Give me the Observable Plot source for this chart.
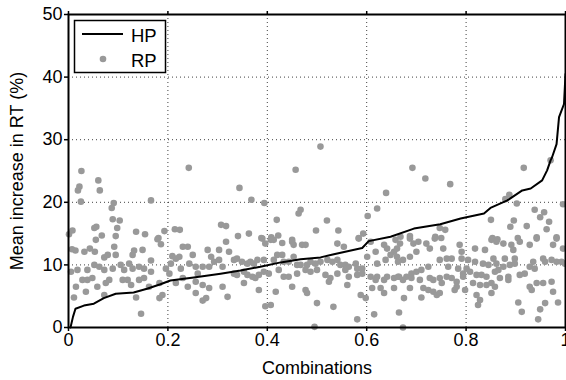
<!DOCTYPE html>
<html>
<head>
<meta charset="utf-8">
<script src="https://cdn.jsdelivr.net/npm/d3@7"></script>
<script src="https://cdn.jsdelivr.net/npm/@observablehq/plot@0.6"></script>
<style>
  html, body { margin: 0; padding: 0; background: white; }
  #wrap { position: relative; width: 566px; height: 380px; }
  #legend { position: absolute; left: 0; top: 0; pointer-events: none; }
</style>
</head>
<body>
<div id="wrap"></div>
<script>
// ---- data ----
const xTicks = [0, 0.2, 0.4, 0.6, 0.8, 1];
const yTicks = [0, 10, 20, 30, 40, 50];
const seriesNames = ["HP", "RP"];

// HP: sorted curve (x = fraction of combinations, y = mean increase %)
const hpPoints = [
  [0.004,0],[0.009,1.7],[0.014,3.0],[0.031,3.5],[0.051,3.8],[0.071,4.7],[0.095,5.4],
  [0.131,5.6],[0.158,6.2],[0.185,6.9],[0.205,7.5],[0.252,8.0],[0.306,8.6],[0.346,9.1],
  [0.386,9.7],[0.427,10.4],[0.467,10.9],[0.507,11.2],[0.534,11.7],[0.591,12.7],[0.604,13.8],
  [0.648,14.5],[0.695,15.8],[0.748,16.5],[0.789,17.4],[0.836,18.2],[0.849,19.1],[0.883,20.3],
  [0.913,21.9],[0.930,22.2],[0.953,23.5],[0.963,25.1],[0.970,26.7],[0.973,27.2],[0.982,29.3],
  [0.987,33.6],[0.997,35.7],[1.0,40.5]
];

// RP: scattered points
const rpPoints = [
  [0.026,25.0],[0.022,22.5],[0.019,21.9],[0.060,23.5],[0.063,21.9],[0.025,20.1],[0.091,19.9],[0.087,19.1],
  [0.089,17.3],[0.103,17.1],[0.166,20.3],[0.242,25.5],[0.052,15.9],[0.056,16.1],[0.098,15.9],[0.008,15.5],
  [0.001,14.9],[0.067,14.7],[0.095,14.6],[0.136,15.3],[0.154,14.9],[0.193,15.4],[0.181,14.3],[0.214,15.7],
  [0.224,15.6],[0.307,16.4],[0.317,16.2],
  [0.055,14.0],[0.092,12.9],[0.132,12.3],[0.149,12.4],[0.179,14.1],[0.186,13.3],[0.129,11.6],[0.007,12.5],
  [0.014,12.3],[0.032,12.1],[0.043,12.6],[0.053,12.1],[0.072,11.2],[0.079,11.6],[0.095,11.6],[0.209,11.4],
  [0.216,11.0],[0.223,11.3],[0.230,12.9],[0.240,12.9],[0.250,11.6],[0.280,12.4],[0.287,11.3],[0.303,12.4],
  [0.317,13.7],[0.323,12.1],[0.293,10.5],[0.303,10.8],
  [0.005,8.9],[0.018,9.2],[0.038,9.2],[0.052,10.0],[0.062,9.7],[0.072,9.2],[0.089,9.4],[0.105,10.0],
  [0.112,9.2],[0.122,10.2],[0.129,9.4],[0.142,9.7],[0.152,9.4],[0.166,10.7],[0.166,8.9],[0.196,9.4],
  [0.206,10.2],[0.226,9.4],[0.243,10.2],[0.256,9.7],[0.270,9.7],[0.283,9.7],[0.310,9.7],
  [0.015,6.5],[0.028,7.6],[0.038,7.6],[0.048,7.9],[0.058,6.5],[0.075,7.1],[0.082,7.6],[0.109,7.6],
  [0.119,7.6],[0.126,6.8],[0.142,7.6],[0.152,7.9],[0.162,6.5],[0.183,7.1],[0.203,8.6],[0.216,7.1],
  [0.230,7.9],[0.240,6.5],[0.256,7.3],[0.270,6.8],[0.283,6.3],[0.310,6.5],[0.260,8.6],
  [0.011,4.8],[0.035,5.7],[0.072,5.2],[0.136,4.8],[0.183,4.7],[0.189,5.2],[0.256,5.5],[0.270,4.3],
  [0.277,4.7],[0.320,4.9],[0.146,2.2],
  [0.507,28.9],[0.457,25.2],[0.344,22.3],[0.368,20.4],[0.394,19.9],[0.467,18.8],[0.463,18.2],[0.419,17.2],
  [0.520,17.1],[0.639,21.5],[0.621,19.0],[0.602,17.8],[0.498,15.5],[0.543,15.5],[0.341,14.6],[0.363,15.0],
  [0.388,14.3],[0.408,14.4],[0.422,14.7],[0.450,14.0],[0.593,15.0],[0.584,14.3],
  [0.390,14.2],[0.396,13.4],[0.407,14.0],[0.413,14.0],[0.430,13.5],[0.450,13.7],[0.453,13.2],[0.470,13.2],
  [0.477,13.2],[0.541,13.4],[0.554,12.9],[0.584,14.2],[0.608,13.7],[0.618,12.1],[0.635,13.2],[0.641,12.6],
  [0.655,12.1],[0.661,12.6],[0.658,14.0],
  [0.333,10.8],[0.339,11.0],[0.349,10.5],[0.360,10.2],[0.366,10.5],[0.373,10.2],[0.380,10.8],[0.393,10.8],
  [0.413,10.8],[0.420,11.6],[0.430,11.6],[0.433,10.5],[0.443,10.5],[0.453,11.3],[0.460,10.0],[0.467,10.0],
  [0.480,10.0],[0.487,10.5],[0.497,10.2],[0.507,10.5],[0.521,10.8],[0.531,10.5],[0.541,10.8],[0.547,10.0],
  [0.557,10.0],[0.564,9.7],[0.578,10.2],[0.581,9.4],[0.591,9.4],[0.601,11.3],[0.621,10.2],[0.638,10.8],
  [0.648,11.6],[0.661,11.3],
  [0.333,8.6],[0.339,8.4],[0.353,8.9],[0.360,8.4],[0.370,8.1],[0.376,7.9],[0.383,8.4],[0.393,8.9],
  [0.403,8.6],[0.423,9.2],[0.433,8.1],[0.443,8.1],[0.460,8.6],[0.477,9.2],[0.487,8.9],[0.500,9.2],
  [0.517,8.4],[0.527,7.9],[0.541,8.6],[0.557,9.2],[0.564,8.1],[0.581,8.4],[0.591,8.6],[0.608,8.1],
  [0.618,7.6],[0.621,8.1],[0.635,7.6],[0.641,8.1],[0.655,7.9],[0.665,8.1],
  [0.353,7.1],[0.383,6.0],[0.417,5.7],[0.450,6.5],[0.477,6.0],[0.480,5.5],[0.524,7.3],[0.561,6.8],
  [0.588,5.2],[0.598,4.7],[0.611,6.3],[0.628,6.3],[0.635,5.5],[0.655,6.3],
  [0.396,3.4],[0.407,3.6],[0.500,3.9],[0.533,3.3],[0.581,1.3],[0.615,2.1],[0.665,2.4],[0.495,0.1],
  [0.692,25.5],[0.718,23.8],[0.768,22.9],[0.916,25.5],[0.970,26.7],[0.887,21.2],[0.879,20.5],[0.902,19.8],
  [0.995,19.7],[0.938,18.8],[0.957,18.4],[0.949,17.6],[0.967,16.9],[0.850,17.2],[0.896,17.1],[0.889,16.1],
  [0.922,16.2],[0.962,15.7],[0.747,15.9],[0.758,15.6],[0.687,14.6],[0.668,14.5],[0.738,14.5],[0.750,14.3],
  [0.853,14.3],[0.863,14.1],[0.904,14.3],[0.942,14.4],[0.982,14.4],
  [0.667,13.4],[0.687,14.2],[0.694,13.4],[0.704,13.7],[0.720,13.4],[0.727,12.6],[0.700,12.1],[0.687,11.3],
  [0.673,10.8],[0.663,10.5],[0.737,14.2],[0.754,12.6],[0.787,13.2],[0.791,12.1],[0.818,12.6],[0.838,12.4],
  [0.851,14.0],[0.861,13.7],[0.875,13.4],[0.891,13.2],[0.895,12.4],[0.908,13.7],[0.928,13.2],[0.942,14.2],
  [0.975,13.2],[0.982,14.2],[0.995,12.6],[0.855,11.0],[0.878,11.0],[0.898,11.0],[0.935,10.5],[0.955,11.0],
  [0.972,10.8],[0.982,10.5],[0.992,10.5],[0.999,10.2],[0.747,10.8],[0.761,11.0],[0.771,11.0],[0.791,11.0],
  [0.804,10.8],[0.818,10.5],[0.834,10.2],[0.845,10.0],[0.861,10.2],[0.875,9.7],[0.888,10.0],[0.898,10.2],
  [0.663,8.1],[0.680,8.1],[0.690,8.6],[0.700,8.9],[0.710,9.2],[0.724,9.7],[0.764,9.7],[0.784,9.4],
  [0.794,8.6],[0.801,9.4],[0.808,8.9],[0.821,8.4],[0.831,8.4],[0.841,8.1],[0.858,8.9],[0.865,9.2],
  [0.868,7.9],[0.885,8.1],[0.908,8.4],[0.918,8.6],[0.928,9.7],[0.938,9.4],[0.959,10.5],
  [0.673,7.6],[0.690,7.9],[0.707,7.6],[0.727,7.9],[0.734,7.6],[0.747,7.9],[0.761,8.1],[0.771,7.9],
  [0.781,7.3],[0.794,8.1],[0.814,7.1],[0.828,6.8],[0.841,6.8],[0.851,7.1],[0.858,6.5],[0.885,7.6],
  [0.687,6.3],[0.714,6.3],[0.724,6.0],[0.734,5.7],[0.741,5.2],[0.747,5.5],[0.751,7.1],[0.777,6.0],
  [0.781,6.5],[0.798,6.0],[0.821,5.2],[0.828,4.4],[0.824,3.6],[0.851,5.5],[0.905,4.0],[0.912,2.5],
  [0.928,6.5],[0.932,6.0],[0.942,7.1],[0.955,7.1],[0.972,7.3],[0.975,5.7],[0.985,4.0],[0.949,2.9],
  [0.959,3.9],[0.945,1.3],[0.673,0.0],[0.710,4.8],[0.675,4.7]
];

const hp = hpPoints.map(([x, y]) => ({x, y}));
const rp = rpPoints.map(([x, y]) => ({x, y}));

const font = "'Liberation Sans', Arial, Helvetica, sans-serif";

const chart = Plot.plot({
  width: 566,
  height: 380,
  marginLeft: 68,
  marginRight: 1,
  marginTop: 14,
  marginBottom: 53,
  style: {fontFamily: font, fontSize: "18px", background: "white", color: "black"},
  x: {domain: [0, 1]},
  y: {domain: [0, 50]},
  marks: [
    Plot.gridX(xTicks.slice(1, -1), {stroke: "#000", strokeOpacity: 0.75, strokeWidth: 1, strokeDasharray: "1,3"}),
    Plot.gridY(yTicks.slice(1, -1), {stroke: "#000", strokeOpacity: 0.75, strokeWidth: 1, strokeDasharray: "1,3"}),
    Plot.dot(rp, {x: "x", y: "y", r: 3.3, fill: "#999999", stroke: "none"}),
    Plot.line(hp, {x: "x", y: "y", stroke: "black", strokeWidth: 2}),
    Plot.frame({stroke: "black", strokeWidth: 2}),
    Plot.axisX({ticks: xTicks, tickSize: 4, tickPadding: 2, tickFormat: d => String(d), strokeWidth: 1.5,
      label: "Combinations", labelAnchor: "center", labelArrow: "none", labelOffset: 46}),
    Plot.axisX({anchor: "top", ticks: xTicks, tickSize: 4, tickFormat: () => "", strokeWidth: 1.5, label: null}),
    Plot.axisY({ticks: yTicks, tickSize: 4, tickPadding: 2, strokeWidth: 1.5,
      label: "Mean increase in RT (%)", labelAnchor: "center", labelArrow: "none", labelOffset: 58})
  ]
});

const wrap = document.getElementById("wrap");
wrap.appendChild(chart);

// legend overlay (upper-left inside the plot frame)
const ns = "http://www.w3.org/2000/svg";
const leg = document.createElementNS(ns, "svg");
leg.setAttribute("id", "legend");
leg.setAttribute("width", 566);
leg.setAttribute("height", 380);
leg.innerHTML = `
  <rect x="74.5" y="20.5" width="91" height="52" fill="white" stroke="black" stroke-width="1.5"/>
  <line x1="82" x2="123" y1="34" y2="34" stroke="black" stroke-width="2"/>
  <circle cx="103" cy="59" r="3.3" fill="#999999"/>
  <text x="131" y="41.5" font-family="${font}" font-size="18.5px" fill="black">${seriesNames[0]}</text>
  <text x="131" y="66.5" font-family="${font}" font-size="18.5px" fill="black">${seriesNames[1]}</text>
`;
wrap.appendChild(leg);
</script>
</body>
</html>
